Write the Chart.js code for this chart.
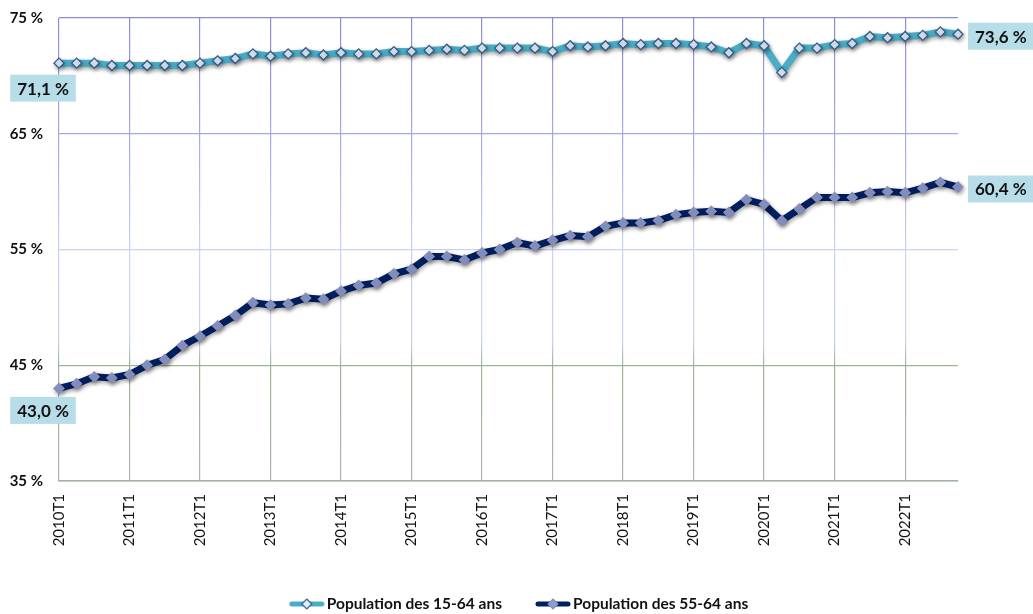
<!DOCTYPE html>
<html lang="fr">
<head>
<meta charset="utf-8">
<title>Taux d'emploi</title>
<script src="https://cdn.jsdelivr.net/npm/chart.js@4/dist/chart.umd.min.js"></script>
<style>
  html, body { margin: 0; padding: 0; background: #fff; }
  #wrap { width: 1033px; height: 614px; position: relative; }
</style>
</head>
<body>
<div id="wrap"><canvas id="chart"></canvas></div>
<script>
// Quarters 2010T1 .. 2022T4
const years = [2010, 2011, 2012, 2013, 2014, 2015, 2016, 2017, 2018, 2019, 2020, 2021, 2022];
const quarters = years.flatMap(y => ['T1', 'T2', 'T3', 'T4'].map(q => y + q));

// Taux d'emploi, en %
const pop1564 = [
  71.1, 71.1, 71.1, 70.9, 70.9, 70.9, 70.9, 70.9,
  71.1, 71.3, 71.5, 71.9, 71.7, 71.9, 72.0, 71.8,
  72.0, 71.9, 71.9, 72.1, 72.1, 72.2, 72.3, 72.2,
  72.4, 72.4, 72.4, 72.4, 72.1, 72.6, 72.5, 72.6,
  72.8, 72.7, 72.8, 72.8, 72.7, 72.5, 72.0, 72.8,
  72.6, 70.3, 72.4, 72.4, 72.7, 72.8, 73.4, 73.3,
  73.4, 73.5, 73.8, 73.6
];
const pop5564 = [
  43.0, 43.4, 44.0, 43.9, 44.2, 45.0, 45.5, 46.7,
  47.5, 48.4, 49.3, 50.4, 50.2, 50.3, 50.8, 50.7,
  51.4, 51.9, 52.1, 52.9, 53.3, 54.4, 54.4, 54.1,
  54.7, 55.0, 55.6, 55.3, 55.8, 56.2, 56.1, 57.0,
  57.3, 57.3, 57.5, 58.0, 58.2, 58.3, 58.2, 59.3,
  58.9, 57.5, 58.5, 59.5, 59.5, 59.5, 59.9, 60.0,
  59.9, 60.3, 60.8, 60.4
];
const seriesNames = ['Population des 15-64 ans', 'Population des 55-64 ans'];
const yTicks = [35, 45, 55, 65, 75];

const FONT = "Lato, 'Open Sans', sans-serif";
const lineColors = ['#4bacc6', '#002060'];
const markerFill = ['#e4f0fa', '#86a0d4'];
const markerBorder = ['#2f5a8c', '#9289b6'];

// Grid lines fade from purple (top) to light blue to grey-green (bottom)
let gridGrad = null;
let gridKey = '';
function gridGradient(chart) {
  const area = chart.chartArea;
  if (!area) return '#b8bde8';
  const key = area.top + '-' + area.bottom;
  if (!gridGrad || gridKey !== key) {
    const g = chart.ctx.createLinearGradient(0, area.top, 0, area.bottom);
    g.addColorStop(0, '#8c8cd4');
    g.addColorStop(0.3, '#a9aee6');
    g.addColorStop(0.5, '#c9d2f6');
    g.addColorStop(0.7, '#c6d4ea');
    g.addColorStop(0.75, '#9fb497');
    g.addColorStop(1, '#a9b6a9');
    gridGrad = g;
    gridKey = key;
  }
  return gridGrad;
}

// Small soft shadow under each line, like the Excel original
const lineShadow = {
  id: 'lineShadow',
  beforeDatasetDraw(chart) {
    const ctx = chart.ctx;
    ctx.save();
    ctx.shadowColor = 'rgba(0, 0, 0, 0.35)';
    ctx.shadowBlur = 4;
    ctx.shadowOffsetX = 1;
    ctx.shadowOffsetY = 2;
  },
  afterDatasetDraw(chart) {
    chart.ctx.restore();
  }
};

// Value boxes on the first and last point of each series
const endLabels = {
  id: 'endLabels',
  afterDatasetsDraw(chart) {
    const ctx = chart.ctx;
    ctx.save();
    ctx.font = "bold 17px " + FONT;
    ctx.textBaseline = 'middle';
    ctx.textAlign = 'center';
    chart.data.datasets.forEach((ds, i) => {
      const pts = chart.getDatasetMeta(i).data;
      const last = pts.length - 1;
      [[0, 'first'], [last, 'last']].forEach(([idx, where]) => {
        const p = pts[idx];
        const txt = ds.data[idx].toFixed(1).replace('.', ',') + ' %';
        const w = ctx.measureText(txt).width + 14;
        const h = 27;
        let cx, cy;
        if (where === 'first') {
          cx = p.x - 16;
          cy = p.y + (i === 0 ? 25 : 22);
        } else {
          cx = p.x + 10 + w / 2;
          cy = p.y + 2;
        }
        ctx.fillStyle = '#b7dde8';
        ctx.fillRect(cx - w / 2, cy - h / 2, w, h);
        ctx.fillStyle = '#111';
        ctx.fillText(txt, cx, cy + 1);
      });
    });
    ctx.restore();
  }
};

// Legend icon: thick line with a diamond marker
function legendIcon(i) {
  const c = document.createElement('canvas');
  c.width = 36;
  c.height = 12;
  const g = c.getContext('2d');
  g.strokeStyle = lineColors[i];
  g.lineWidth = 5;
  g.lineCap = 'round';
  g.beginPath();
  g.moveTo(3, 6);
  g.lineTo(33, 6);
  g.stroke();
  g.beginPath();
  g.moveTo(18, 1);
  g.lineTo(23, 6);
  g.lineTo(18, 11);
  g.lineTo(13, 6);
  g.closePath();
  g.fillStyle = markerFill[i];
  g.fill();
  g.lineWidth = 1.2;
  g.strokeStyle = markerBorder[i];
  g.stroke();
  return c;
}

const bottomLegend = {
  id: 'bottomLegend',
  afterDraw(chart) {
    const ctx = chart.ctx;
    ctx.save();
    ctx.font = "bold 15.5px " + FONT;
    ctx.textBaseline = 'middle';
    ctx.textAlign = 'left';
    const iconW = 36, gapIcon = 2, gapItem = 33;
    const widths = seriesNames.map(n => iconW + gapIcon + ctx.measureText(n).width);
    const total = widths.reduce((a, b) => a + b, 0) + gapItem;
    let x = (chart.width - total) / 2 + 2;
    const y = 604;
    seriesNames.forEach((n, i) => {
      ctx.drawImage(legendIcon(i), x, y - 6);
      ctx.fillStyle = '#111';
      ctx.fillText(n, x + iconW + gapIcon, y);
      x += widths[i] + gapItem;
    });
    ctx.restore();
  }
};

new Chart(document.getElementById('chart'), {
  type: 'line',
  data: {
    labels: quarters,
    datasets: [pop1564, pop5564].map((vals, i) => ({
      label: seriesNames[i],
      data: vals,
      borderColor: lineColors[i],
      borderWidth: 7,
      tension: 0,
      pointStyle: 'rectRot',
      pointRadius: 5,
      pointBorderWidth: 1.3,
      pointBackgroundColor: markerFill[i],
      pointBorderColor: markerBorder[i],
      clip: false
    }))
  },
  options: {
    responsive: true,
    maintainAspectRatio: false,
    animation: false,
    layout: { padding: { top: 18, right: 75, bottom: 58, left: 0 } },
    plugins: {
      legend: { display: false },
      tooltip: { enabled: false }
    },
    scales: {
      x: {
        offset: false,
        grid: {
          drawTicks: false,
          color: c => (c.index % 4 === 0 ? gridGradient(c.chart) : 'rgba(0,0,0,0)'),
          lineWidth: 1.2
        },
        border: { display: true, color: '#a4b2a4', width: 1.5 },
        ticks: {
          autoSkip: false,
          maxRotation: 90,
          minRotation: 90,
          padding: 13,
          color: '#111',
          font: { family: FONT, size: 15 },
          callback: (v, i) => (i % 4 === 0 ? quarters[i] : '')
        },
        afterFit: s => { s.height = 75; }
      },
      y: {
        min: 35,
        max: 75,
        afterBuildTicks: s => { s.ticks = yTicks.map(v => ({ value: v })); },
        grid: {
          // invisible tick marks give the label gap without padding the top
          drawTicks: true,
          tickLength: 14,
          tickColor: 'rgba(0,0,0,0)',
          color: c => gridGradient(c.chart),
          lineWidth: 1.2
        },
        border: { display: false },
        ticks: {
          padding: 2,
          color: '#111',
          font: { family: FONT, size: 15, weight: 'bold' },
          callback: v => v + ' %'
        },
        afterFit: s => { s.width = 59; }
      }
    }
  },
  plugins: [lineShadow, endLabels, bottomLegend]
});
</script>
</body>
</html>
